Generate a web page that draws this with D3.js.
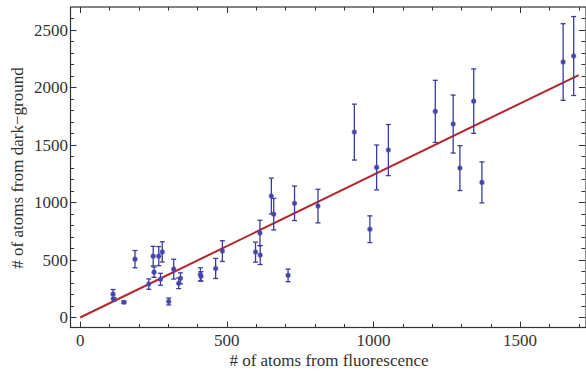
<!DOCTYPE html>
<html lang="en">
<head>
    <meta charset="UTF-8">
    <title>Dark-ground vs fluorescence</title>
    <script src="https://d3js.org/d3.v7.min.js"></script>
    <style>
        body { margin: 0; background: #fff; }
    </style>
</head>
<body>
    <div id="chart"></div>
    <script>
        var fluor  = [112, 115, 149, 187, 234, 249, 252, 268, 274, 280, 302, 319, 336, 342, 410, 412, 462, 485,
                      598, 613, 614, 652, 660, 709, 731, 811, 935, 988, 1011, 1051, 1211, 1272, 1295, 1342, 1370, 1647, 1683];
        var dark   = [203, 158, 132, 507, 290, 533, 394, 533, 332, 570, 139, 420, 297, 340, 374, 358, 426, 577,
                      568, 735, 542, 1055, 898, 366, 992, 968, 1611, 767, 1304, 1455, 1791, 1681, 1298, 1880, 1174, 2220, 2272];
        var darkErr = [40, 15, 10, 75, 45, 85, 45, 83, 52, 88, 30, 86, 46, 48, 58, 40, 87, 90,
                      87, 110, 82, 156, 137, 55, 150, 146, 243, 116, 195, 222, 270, 252, 195, 280, 178, 333, 343];

        // fitted line through the origin
        var fitSlope = 1.239;
        var fitRange = [0, 1700];

        var xTicks = [0, 500, 1000, 1500];
        var yTicks = [0, 500, 1000, 1500, 2000, 2500];

        var width = 586, height = 373;
        var serif = "'Liberation Serif', Tinos, 'Nimbus Roman', 'Nimbus Roman No9 L', FreeSerif, 'Times New Roman', Times, 'DejaVu Serif', serif";
        var svg = d3.select("#chart").append("svg")
            .attr("width", width)
            .attr("height", height)
            .style("font-family", serif);

        var x = d3.scaleLinear().domain([-33, 1725]).range([70.5, 586]);
        var y = d3.scaleLinear().domain([-87, 2698]).range([327.5, 7]);

        var frameColor = "#333";
        var blue = "#3c3c9e";
        var red = "#b3262a";

        // minor ticks every 100
        var xMinor = d3.range(0, 1800, 100);
        var yMinor = d3.range(0, 2700, 100);

        var ticks = svg.append("g").attr("stroke", frameColor).attr("stroke-width", 1);

        // bottom and top
        xMinor.forEach(function(v) {
            var big = v % 500 === 0;
            var len = big ? 6 : 3.5;
            var px = Math.round(x(v)) + 0.5;
            ticks.append("line").attr("x1", px).attr("x2", px)
                .attr("y1", y.range()[0]).attr("y2", y.range()[0] - len);
            ticks.append("line").attr("x1", px).attr("x2", px)
                .attr("y1", y.range()[1]).attr("y2", y.range()[1] + len);
        });
        // left and right
        yMinor.forEach(function(v) {
            var big = v % 500 === 0;
            var len = big ? 6 : 3.5;
            var py = Math.round(y(v)) + 0.5;
            ticks.append("line").attr("y1", py).attr("y2", py)
                .attr("x1", x.range()[0]).attr("x2", x.range()[0] + len);
            ticks.append("line").attr("y1", py).attr("y2", py)
                .attr("x1", x.range()[1] - 1).attr("x2", x.range()[1] - 1 - len);
        });

        // frame
        svg.append("rect")
            .attr("x", x.range()[0])
            .attr("y", y.range()[1])
            .attr("width", x.range()[1] - x.range()[0])
            .attr("height", y.range()[0] - y.range()[1])
            .attr("fill", "none")
            .attr("stroke", frameColor)
            .attr("stroke-width", 1.2);

        // tick labels
        svg.selectAll(".xlab").data(xTicks).enter().append("text")
            .attr("x", function(d) { return x(d); })
            .attr("y", 346)
            .attr("text-anchor", "middle")
            .attr("font-family", serif)
            .attr("font-size", 17)
            .attr("fill", "#333")
            .text(function(d) { return d; });

        svg.selectAll(".ylab").data(yTicks).enter().append("text")
            .attr("x", 68)
            .attr("y", function(d) { return y(d) + 5.8; })
            .attr("text-anchor", "end")
            .attr("font-family", serif)
            .attr("font-size", 17)
            .attr("fill", "#333")
            .text(function(d) { return d; });

        // axis titles
        svg.append("text")
            .attr("x", 329)
            .attr("y", 366)
            .attr("text-anchor", "middle")
            .attr("font-family", serif)
            .attr("font-size", 17)
            .attr("fill", "#333")
            .text("# of atoms from fluorescence");

        svg.append("text")
            .attr("transform", "translate(23,168) rotate(-90)")
            .attr("text-anchor", "middle")
            .attr("font-family", serif)
            .attr("font-size", 17)
            .attr("fill", "#333")
            .text("# of atoms from dark\u2212ground");

        // fit line
        svg.append("line")
            .attr("x1", x(fitRange[0])).attr("y1", y(fitSlope * fitRange[0]))
            .attr("x2", x(fitRange[1])).attr("y2", y(fitSlope * fitRange[1]))
            .attr("stroke", red)
            .attr("stroke-width", 2);

        // error bars
        var idx = d3.range(fluor.length);
        var bars = svg.append("g").attr("stroke", blue).attr("stroke-width", 1.3);
        idx.forEach(function(i) {
            var cx = x(fluor[i]);
            var top = y(dark[i] + darkErr[i]);
            var bot = y(dark[i] - darkErr[i]);
            bars.append("line").attr("x1", cx).attr("x2", cx).attr("y1", top).attr("y2", bot);
            bars.append("line").attr("x1", cx - 2.5).attr("x2", cx + 2.5).attr("y1", top).attr("y2", top);
            bars.append("line").attr("x1", cx - 2.5).attr("x2", cx + 2.5).attr("y1", bot).attr("y2", bot);
        });

        // points
        svg.append("g").selectAll("circle").data(idx).enter().append("circle")
            .attr("cx", function(i) { return x(fluor[i]); })
            .attr("cy", function(i) { return y(dark[i]); })
            .attr("r", 2.3)
            .attr("fill", "#4545a8")
            .attr("stroke", "rgba(80,80,180,0.35)")
            .attr("stroke-width", 1.2);
    </script>
</body>
</html>
